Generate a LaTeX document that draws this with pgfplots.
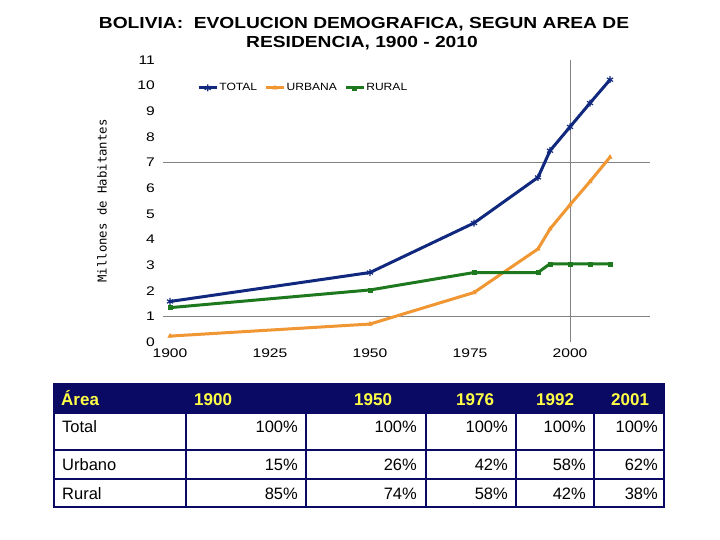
\documentclass[border=0pt]{standalone}
\usepackage{fontspec}
\setmainfont{Liberation Sans}
\newfontfamily\widefont[FakeStretch=1.25]{Liberation Sans}
\newfontfamily\legfont[FakeStretch=1.15]{Liberation Sans}
\newfontfamily\titlefont[FakeStretch=1.2]{Liberation Sans}
\newfontfamily\ylabfont{DejaVu Sans Mono}
\usepackage{pgfplots}
\pgfplotsset{compat=1.18}
\definecolor{cTotal}{RGB}{16,40,125}
\definecolor{cUrb}{RGB}{240,150,50}
\definecolor{cRur}{RGB}{30,120,30}
\definecolor{tnavy}{RGB}{10,10,100}
\definecolor{tyellow}{RGB}{255,255,70}
\definecolor{cgrid}{RGB}{130,130,130}
\begin{document}
\begin{tikzpicture}
\useasboundingbox (0,0) rectangle (720pt,540pt);
\fill[white] (0,0) rectangle (720pt,540pt);
% title
\node[anchor=base, inner sep=0pt, font=\titlefont\bfseries\fontsize{16}{19}\selectfont] at (364pt,511pt) {BOLIVIA:\ \ EVOLUCION DEMOGRAFICA, SEGUN AREA DE};
\node[anchor=base, inner sep=0pt, font=\titlefont\bfseries\fontsize{16}{19}\selectfont] at (362pt,492.3pt) {RESIDENCIA, 1900 - 2010};
\begin{axis}[
  at={(163pt,198pt)}, anchor=south west,
  scale only axis, width=487pt, height=282pt,
  xmin=1898.25, xmax=2020, ymin=0, ymax=11,
  clip=false,
  axis line style={draw=none},
  major tick style={draw=none},
  xtick={1900,1925,1950,1975,2000},
  ytick={0,1,...,11},
  xticklabel style={anchor=north, inner sep=0pt, yshift=-7pt},
  yticklabel style={anchor=east, inner sep=0pt, xshift=-8pt},
  ticklabel style={font=\widefont\fontsize{12.5}{14}\selectfont},
  /pgf/number format/assume math mode=true,
  /pgf/number format/1000 sep={},
  extra y ticks={1,7}, extra y tick labels={},
  extra x ticks={2000}, extra x tick labels={},
  extra tick style={grid=major, major grid style={cgrid, line width=0.9pt}},
  ylabel={Millones de Habitantes},
  ylabel style={at={(axis description cs:-0.1253,0.5)}, anchor=center, font=\ylabfont\fontsize{12.3}{14}\selectfont},
  legend columns=3,
  legend style={at={(axis description cs:0.0698,0.9007)}, anchor=west, draw=none, fill=none, inner sep=0pt,
    font=\legfont\fontsize{10.5}{12}\selectfont,
    nodes={inner sep=1.2pt},
    /tikz/every even column/.append style={column sep=6pt}},
  legend image code/.code={\draw[mark repeat=2,mark phase=2,#1] plot coordinates {(0pt,0pt) (9pt,0pt) (18pt,0pt)};},
  every axis plot/.append style={line width=3pt},
]
\addplot[cTotal, mark=asterisk, mark size=3.5pt, mark options={line width=1.2pt}] coordinates {
 (1900,1.58) (1950,2.71) (1976,4.64) (1992,6.42) (1995,7.46) (2000,8.39) (2005,9.32) (2010,10.23)};
\addlegendentry{TOTAL}
\addplot[cUrb, mark=triangle*, mark size=2.5pt, mark options={line width=0.5pt}] coordinates {
 (1900,0.23) (1950,0.70) (1976,1.93) (1992,3.63) (1995,4.41) (2000,5.35) (2005,6.26) (2010,7.21)};
\addlegendentry{URBANA}
\addplot[cRur, mark=square*, mark size=2pt, mark options={line width=0.5pt}] coordinates {
 (1900,1.34) (1950,2.03) (1976,2.71) (1992,2.71) (1995,3.05) (2000,3.05) (2005,3.05) (2010,3.05)};
\addlegendentry{RURAL}
\end{axis}
% table
\fill[tnavy] (54pt,127pt) rectangle (664pt,156pt);
\draw[tnavy, line width=2pt] (54pt,33pt) rectangle (664pt,156pt);
\foreach \yy in {127,90,61} {\draw[tnavy, line width=2pt] (54pt,\yy pt) -- (664pt,\yy pt);}
\foreach \xx in {186,306,426,516,594} {\draw[tnavy, line width=2pt] (\xx pt,33pt) -- (\xx pt,127pt);}
\begin{scope}[every node/.style={inner sep=0pt, text=tyellow, font=\bfseries\fontsize{17}{20}\selectfont, anchor=base west}]
\node at (61pt,134.7pt) {Área};
\node at (194pt,134.7pt) {1900};
\node at (354pt,134.7pt) {1950};
\node at (456pt,134.7pt) {1976};
\node at (536pt,134.7pt) {1992};
\node at (611pt,134.7pt) {2001};
\end{scope}
\begin{scope}[every node/.style={inner sep=0pt, font=\fontsize{16.5}{19}\selectfont}]
\node[anchor=base west] at (62pt,107pt) {Total};
\node[anchor=base west] at (62pt,69.3pt) {Urbano};
\node[anchor=base west] at (62pt,40.3pt) {Rural};
\foreach \xx/\a/\b/\c in {298/100/15/85, 417/100/26/74, 508/100/42/58, 586/100/58/42, 658/100/62/38} {
  \node[anchor=base east] at (\xx pt,107pt) {\a\%};
  \node[anchor=base east] at (\xx pt,69.3pt) {\b\%};
  \node[anchor=base east] at (\xx pt,40.3pt) {\c\%};
}
\end{scope}
\end{tikzpicture}
\end{document}
